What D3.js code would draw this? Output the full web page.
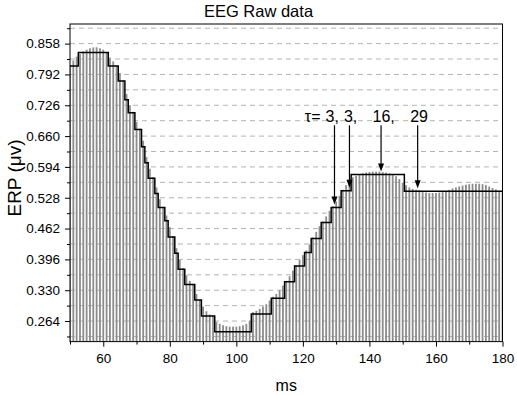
<!DOCTYPE html>
<html>
<head>
<meta charset="utf-8">
<script src="https://cdn.jsdelivr.net/npm/d3@7"></script>
<style>
  body { margin: 0; background: #fff; }
  text { font-family: "Liberation Sans", Arial, sans-serif; }
</style>
</head>
<body>
<div id="chart"></div>
<script>
// raw samples, one per ms starting at 50 ms
const startMs = 50;
const rawValues = [
  0.812, 0.822, 0.830, 0.836, 0.841, 0.845, 0.848, 0.850, 0.850, 0.848,
  0.845, 0.840, 0.828, 0.820, 0.811, 0.795, 0.780, 0.750, 0.726, 0.712,
  0.690, 0.676, 0.650, 0.615, 0.590, 0.572, 0.550, 0.525, 0.508, 0.490,
  0.465, 0.446, 0.420, 0.395, 0.377, 0.362, 0.350, 0.343, 0.322, 0.310,
  0.295, 0.285, 0.278, 0.276, 0.262, 0.258, 0.255, 0.253, 0.252, 0.252,
  0.252, 0.253, 0.255, 0.258, 0.265, 0.283, 0.286, 0.290, 0.295, 0.300,
  0.308, 0.316, 0.322, 0.330, 0.340, 0.350, 0.360, 0.372, 0.384, 0.395,
  0.405, 0.415, 0.428, 0.443, 0.455, 0.467, 0.477, 0.488, 0.500, 0.510,
  0.520, 0.532, 0.545, 0.555, 0.565, 0.572, 0.575, 0.578, 0.580, 0.582,
  0.583, 0.584, 0.584, 0.584, 0.583, 0.582, 0.580, 0.578, 0.574, 0.568,
  0.560, 0.555, 0.550, 0.547, 0.545, 0.544, 0.540, 0.539, 0.538, 0.538,
  0.538, 0.539, 0.540, 0.542, 0.545, 0.548, 0.550, 0.552, 0.554, 0.556,
  0.557, 0.558, 0.558, 0.558, 0.557, 0.555, 0.552, 0.549, 0.546, 0.543,
  0.540
];

// piecewise constant approximation (segment start in ms, level)
const stepStart = [50, 52.5, 61.5, 64.5, 66.5, 67.5, 69.5, 71.5, 72.5, 73.5,
  75.5, 76.5, 78.5, 79.5, 81.5, 82.5, 84.5, 87.5, 89.5, 93.5,
  104.5, 110.5, 114.5, 117.5, 120.5, 122.5, 125.5, 128.5, 131.5, 134.5, 150.5];
const stepLevel = [0.810, 0.839, 0.810, 0.778, 0.738, 0.710, 0.674, 0.637, 0.603, 0.570,
  0.537, 0.507, 0.479, 0.444, 0.409, 0.375, 0.342, 0.309, 0.275, 0.241,
  0.279, 0.313, 0.348, 0.382, 0.411, 0.441, 0.475, 0.507, 0.543, 0.578, 0.542];
const stepEnd = 180;

// annotated segments
const arrowMs = [129.5, 134, 143.5, 154.5];
const arrowLevel = [0.507, 0.543, 0.578, 0.542];
const tauLabels = ["3,", "3,", "16,", "29"];

// tick values
const yMajor = [0.264, 0.330, 0.396, 0.462, 0.528, 0.594, 0.660, 0.726, 0.792, 0.858];
const yMinor = [0.231, 0.297, 0.363, 0.429, 0.495, 0.561, 0.627, 0.693, 0.759, 0.825, 0.891];
const xMajor = [60, 80, 100, 120, 140, 160, 180];
const xMinor = [50, 70, 90, 110, 130, 150, 170];

const W = 517, H = 395;
const margin = {top: 24, right: 14.5, bottom: 53.4, left: 70},
  width = W - margin.left - margin.right,
  height = H - margin.top - margin.bottom;

const svg = d3.select("#chart")
  .append("svg")
    .attr("width", W)
    .attr("height", H);

const g = svg.append("g")
  .attr("transform", "translate(" + margin.left + "," + margin.top + ")");

const x = d3.scaleLinear().domain([50, 180]).range([0, width]);
const y = d3.scaleLinear().domain([0.22, 0.90]).range([height, 0]);

svg.append("defs").append("clipPath").attr("id", "plotclip")
  .append("rect").attr("width", width).attr("height", height);

// dashed grid lines
g.append("g")
  .selectAll("line")
  .data(yMajor.concat(yMinor))
  .join("line")
    .attr("x1", 0).attr("x2", width)
    .attr("y1", d => y(d)).attr("y2", d => y(d))
    .attr("stroke", "#b4b4b4")
    .attr("stroke-width", 1)
    .attr("stroke-dasharray", "5,4");

const plot = g.append("g").attr("clip-path", "url(#plotclip)");

// raw data bars
const samples = rawValues.map((v, i) => ({t: startMs + i, v: v}));
plot.selectAll("rect.bar")
  .data(samples)
  .join("rect")
    .attr("class", "bar")
    .attr("x", d => x(d.t) - 0.9)
    .attr("width", 1.8)
    .attr("y", d => y(d.v))
    .attr("height", d => y(0.22) - y(d.v))
    .attr("fill", "#8c8c8c");

// step line
const stepPts = stepStart.map((t, i) => [t, stepLevel[i]]);
stepPts.push([stepEnd, stepLevel[stepLevel.length - 1]]);
plot.append("path")
  .datum(stepPts)
  .attr("fill", "none")
  .attr("stroke", "#000")
  .attr("stroke-width", 1.5)
  .attr("d", d3.line().x(d => x(d[0])).y(d => y(d[1])).curve(d3.curveStepAfter));

// frame
g.append("rect")
  .attr("width", width).attr("height", height)
  .attr("fill", "none").attr("stroke", "#000").attr("stroke-width", 1);

// axes
g.append("g")
  .call(d3.axisLeft(y).tickValues(yMajor).tickFormat(d3.format(".3f")).tickSize(5).tickPadding(5));
g.append("g")
  .call(d3.axisLeft(y).tickValues(yMinor).tickFormat("").tickSize(3));

g.append("g")
  .attr("transform", "translate(0," + height + ")")
  .call(d3.axisBottom(x).tickValues(xMajor).tickSize(5).tickPadding(7));
g.append("g")
  .attr("transform", "translate(0," + height + ")")
  .call(d3.axisBottom(x).tickValues(xMinor).tickFormat("").tickSize(3));

g.selectAll(".domain").remove();
g.selectAll(".tick line").attr("stroke", "#000");
g.selectAll(".tick text")
  .attr("fill", "#000")
  .style("font-family", "'Liberation Sans', Arial, sans-serif")
  .style("font-size", "13.5px");

// arrows and tau labels: the digits sit roughly centred over each arrow
const arrowTop = 0.683;
const labelDx = [-9, -5.5, -8.5, -7.5];
const ann = g.append("g");
arrowMs.forEach((t, i) => {
  const ax = x(t), tipY = y(arrowLevel[i]) - 3;
  ann.append("line")
    .attr("x1", ax).attr("x2", ax)
    .attr("y1", y(arrowTop)).attr("y2", tipY - 6)
    .attr("stroke", "#000").attr("stroke-width", 1.2);
  ann.append("path")
    .attr("d", "M" + (ax - 3) + "," + (tipY - 8) + "L" + (ax + 3) + "," + (tipY - 8) + "L" + ax + "," + tipY + "Z")
    .attr("fill", "#000");
  ann.append("text")
    .attr("x", ax + labelDx[i])
    .attr("y", y(arrowTop) - 3.5)
    .style("font-size", "16px")
    .text(tauLabels[i]);
});
ann.append("text")
  .attr("x", x(arrowMs[0]) + labelDx[0] - 5)
  .attr("y", y(arrowTop) - 3.5)
  .attr("text-anchor", "end")
  .style("font-size", "16px")
  .text("\u03c4=");

// titles
svg.append("text")
  .attr("x", W / 2)
  .attr("y", 17)
  .attr("text-anchor", "middle")
  .style("font-size", "16.5px")
  .text("EEG Raw data");

svg.append("text")
  .attr("x", margin.left + width / 2)
  .attr("y", 391)
  .attr("text-anchor", "middle")
  .style("font-size", "16px")
  .text("ms");

svg.append("text")
  .attr("transform", "translate(20.5,178) rotate(-90)")
  .attr("text-anchor", "middle")
  .style("font-size", "19px")
  .text("ERP (\u03bcv)");
</script>
</body>
</html>
